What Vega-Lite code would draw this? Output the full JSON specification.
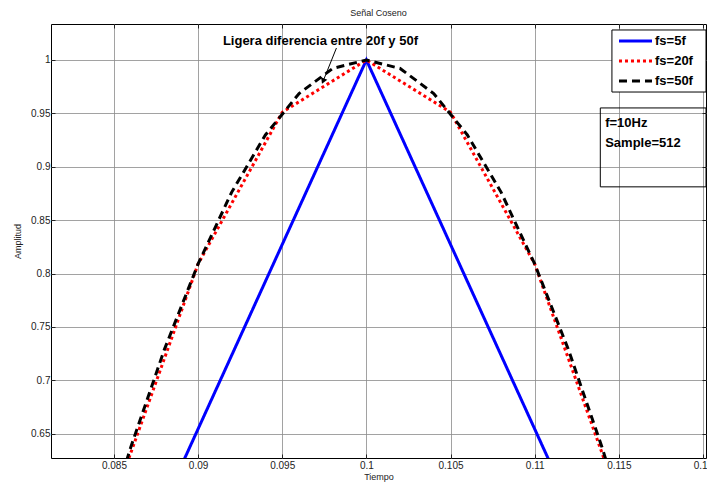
{
  "$schema": "https://vega.github.io/schema/vega-lite/v6.json",
  "autosize": "none",
  "width": 655,
  "height": 434,
  "padding": {"left": 51, "top": 24, "right": 1, "bottom": 28},
  "background": "white",
  "title": {"text": "Señal Coseno", "fontSize": 9, "fontWeight": "normal", "font": "Liberation Sans", "color": "#222", "offset": 6},
  "config": {
    "font": "Liberation Sans",
    "view": {"stroke": "black", "strokeWidth": 1},
    "axis": {
      "gridColor": "#8a8a8a", "gridWidth": 0.8, "gridOpacity": 1,
      "domain": false, "tickColor": "#222", "tickSize": -4,
      "labelFont": "Liberation Sans", "labelFontSize": 10, "labelColor": "#222",
      "titleFont": "Liberation Sans", "titleFontSize": 9, "titleFontWeight": "normal", "titleColor": "#222"
    }
  },
  "resolve": {"axis": {"x": "independent", "y": "independent"}},
  "datasets": {
    "lines": [
      {"serie": "fs=5f", "t": 0.08, "y": 0.309},
      {"serie": "fs=5f", "t": 0.1, "y": 1.0},
      {"serie": "fs=5f", "t": 0.12, "y": 0.309},
      {"serie": "fs=20f", "t": 0.08, "y": 0.309},
      {"serie": "fs=20f", "t": 0.085, "y": 0.5878},
      {"serie": "fs=20f", "t": 0.09, "y": 0.809},
      {"serie": "fs=20f", "t": 0.095, "y": 0.9511},
      {"serie": "fs=20f", "t": 0.1, "y": 1.0},
      {"serie": "fs=20f", "t": 0.105, "y": 0.9511},
      {"serie": "fs=20f", "t": 0.11, "y": 0.809},
      {"serie": "fs=20f", "t": 0.115, "y": 0.5878},
      {"serie": "fs=20f", "t": 0.12, "y": 0.309},
      {"serie": "fs=50f", "t": 0.082, "y": 0.4258},
      {"serie": "fs=50f", "t": 0.084, "y": 0.5358},
      {"serie": "fs=50f", "t": 0.086, "y": 0.6374},
      {"serie": "fs=50f", "t": 0.088, "y": 0.729},
      {"serie": "fs=50f", "t": 0.09, "y": 0.809},
      {"serie": "fs=50f", "t": 0.092, "y": 0.8763},
      {"serie": "fs=50f", "t": 0.094, "y": 0.9298},
      {"serie": "fs=50f", "t": 0.096, "y": 0.9686},
      {"serie": "fs=50f", "t": 0.098, "y": 0.9921},
      {"serie": "fs=50f", "t": 0.1, "y": 1.0},
      {"serie": "fs=50f", "t": 0.102, "y": 0.9921},
      {"serie": "fs=50f", "t": 0.104, "y": 0.9686},
      {"serie": "fs=50f", "t": 0.106, "y": 0.9298},
      {"serie": "fs=50f", "t": 0.108, "y": 0.8763},
      {"serie": "fs=50f", "t": 0.11, "y": 0.809},
      {"serie": "fs=50f", "t": 0.112, "y": 0.729},
      {"serie": "fs=50f", "t": 0.114, "y": 0.6374},
      {"serie": "fs=50f", "t": 0.116, "y": 0.5358},
      {"serie": "fs=50f", "t": 0.118, "y": 0.4258}
    ],
    "legend": [
      {"serie": "fs=5f", "x1": 0.11501, "x2": 0.11697, "xt": 0.11715, "y": 1.0178},
      {"serie": "fs=20f", "x1": 0.11501, "x2": 0.11697, "xt": 0.11715, "y": 0.9991},
      {"serie": "fs=50f", "x1": 0.11501, "x2": 0.11697, "xt": 0.11715, "y": 0.9803}
    ]
  },
  "layer": [
    {
      "data": {"name": "lines"},
      "mark": {"type": "line", "clip": true, "strokeWidth": 3, "strokeCap": "butt"},
      "encoding": {
        "x": {"field": "t", "type": "quantitative", "scale": {"domain": [0.08126, 0.12018], "nice": false, "zero": false},
          "axis": {"title": "Tiempo", "values": [0.085, 0.09, 0.095, 0.1, 0.105, 0.11, 0.115, 0.12], "labelPadding": 6, "titlePadding": 2, "format": "~g"}},
        "y": {"field": "y", "type": "quantitative", "scale": {"domain": [0.6273, 1.0337], "nice": false, "zero": false},
          "axis": {"title": "Amplitud", "values": [0.65, 0.7, 0.75, 0.8, 0.85, 0.9, 0.95, 1], "labelPadding": 5, "titlePadding": 8, "format": "~g"}},
        "detail": {"field": "serie"},
        "color": {"field": "serie", "type": "nominal", "legend": null,
          "scale": {"domain": ["fs=5f", "fs=20f", "fs=50f"], "range": ["#0000ff", "#ff0000", "#000000"]}},
        "strokeDash": {"field": "serie", "type": "nominal", "legend": null,
          "scale": {"domain": ["fs=5f", "fs=20f", "fs=50f"], "range": [[1, 0], [3, 3], [8, 5]]}}
      }
    },
    {
      "data": {"values": [{"t": 0.1, "y": 1}]},
      "mark": {"type": "point", "opacity": 0},
      "encoding": {
        "x": {"field": "t", "type": "quantitative",
          "axis": {"orient": "top", "labels": false, "title": null, "grid": false, "values": [0.085, 0.09, 0.095, 0.1, 0.105, 0.11, 0.115, 0.12]}},
        "y": {"field": "y", "type": "quantitative",
          "axis": {"orient": "right", "labels": false, "title": null, "grid": false, "values": [0.65, 0.7, 0.75, 0.8, 0.85, 0.9, 0.95, 1]}}
      }
    },
    {
      "data": {"values": [{"x1": 0.11459, "x2": 0.12018, "y1": 1.0281, "y2": 0.9700}]},
      "mark": {"type": "rect", "fill": "white", "stroke": "black", "strokeWidth": 1, "clip": true},
      "encoding": {
        "x": {"field": "x1", "type": "quantitative", "axis": null}, "x2": {"field": "x2"},
        "y": {"field": "y1", "type": "quantitative", "axis": null}, "y2": {"field": "y2"}
      }
    },
    {
      "data": {"name": "legend"},
      "mark": {"type": "rule", "strokeWidth": 3, "strokeCap": "butt"},
      "encoding": {
        "x": {"field": "x1", "type": "quantitative", "axis": null}, "x2": {"field": "x2"},
        "y": {"field": "y", "type": "quantitative", "axis": null},
        "color": {"field": "serie", "type": "nominal", "legend": null},
        "strokeDash": {"field": "serie", "type": "nominal", "legend": null}
      }
    },
    {
      "data": {"name": "legend"},
      "mark": {"type": "text", "align": "left", "baseline": "middle", "fontSize": 13, "fontWeight": "bold", "color": "black", "font": "Liberation Sans"},
      "encoding": {
        "x": {"field": "xt", "type": "quantitative", "axis": null},
        "y": {"field": "y", "type": "quantitative", "axis": null},
        "text": {"field": "serie"}
      }
    },
    {
      "data": {"values": [{"x1": 0.1139, "x2": 0.12018, "y1": 0.9551, "y2": 0.8812}]},
      "mark": {"type": "rect", "fill": null, "stroke": "black", "strokeWidth": 1, "clip": true},
      "encoding": {
        "x": {"field": "x1", "type": "quantitative", "axis": null}, "x2": {"field": "x2"},
        "y": {"field": "y1", "type": "quantitative", "axis": null}, "y2": {"field": "y2"}
      }
    },
    {
      "data": {"values": [{"x": 0.11419, "y": 0.941, "txt": "f=10Hz"}, {"x": 0.11419, "y": 0.9223, "txt": "Sample=512"}]},
      "mark": {"type": "text", "align": "left", "baseline": "middle", "fontSize": 13, "fontWeight": "bold", "color": "black", "font": "Liberation Sans"},
      "encoding": {
        "x": {"field": "x", "type": "quantitative", "axis": null}, "y": {"field": "y", "type": "quantitative", "axis": null}, "text": {"field": "txt"}
      }
    },
    {
      "data": {"values": [{"x": 0.09727, "y": 1.0178, "txt": "Ligera diferencia entre 20f y 50f"}]},
      "mark": {"type": "text", "align": "center", "baseline": "middle", "fontSize": 13, "fontWeight": "bold", "color": "black", "font": "Liberation Sans"},
      "encoding": {
        "x": {"field": "x", "type": "quantitative", "axis": null}, "y": {"field": "y", "type": "quantitative", "axis": null}, "text": {"field": "txt"}
      }
    },
    {
      "data": {"values": [{"x1": 0.09822, "y1": 1.0112, "x2": 0.09745, "y2": 0.9810}]},
      "mark": {"type": "rule", "color": "black", "strokeWidth": 1},
      "encoding": {
        "x": {"field": "x1", "type": "quantitative", "axis": null}, "x2": {"field": "x2"},
        "y": {"field": "y1", "type": "quantitative", "axis": null}, "y2": {"field": "y2"}
      }
    },
    {
      "data": {"values": [{"x": 0.09745, "y": 0.9810}]},
      "mark": {"type": "point", "shape": "triangle", "filled": true, "color": "black", "size": 45, "angle": 202, "opacity": 1},
      "encoding": {
        "x": {"field": "x", "type": "quantitative", "axis": null}, "y": {"field": "y", "type": "quantitative", "axis": null}
      }
    }
  ]
}
